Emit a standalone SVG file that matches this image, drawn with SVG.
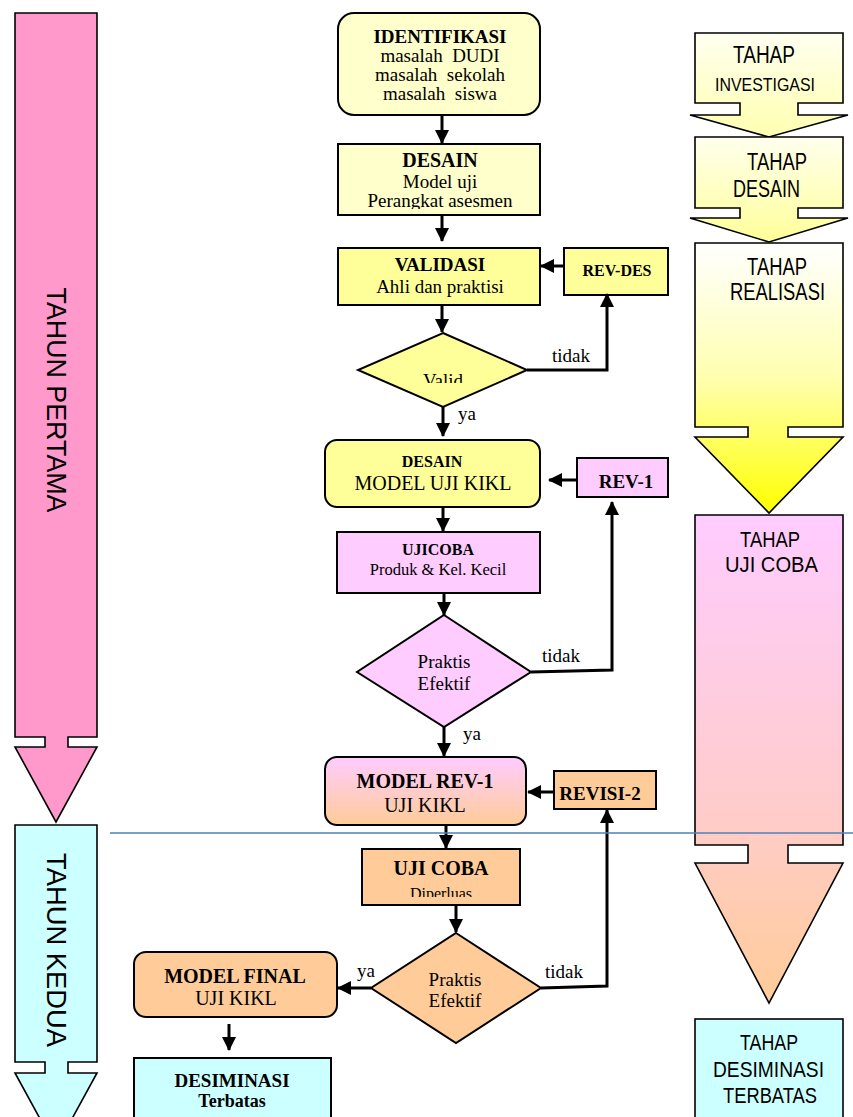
<svg xmlns="http://www.w3.org/2000/svg" width="853" height="1117" viewBox="0 0 853 1117">
<style>
.box{stroke:#000;stroke-width:2}
.big{stroke:#000;stroke-width:1.6}
.serif{font-family:"Liberation Serif","Times New Roman",serif;fill:#000}
.sans{font-family:"Liberation Sans",Arial,sans-serif;fill:#000}
.b{font-weight:bold}
.c{text-anchor:middle}
.con{fill:none;stroke:#000;stroke-width:3}
</style>
<defs>
<marker id="ah" markerUnits="userSpaceOnUse" markerWidth="14" markerHeight="14" refX="13" refY="7" orient="auto">
<path d="M0,0 L14,7 L0,14 Z" fill="#000"/>
</marker>
<linearGradient id="g1" x1="0" y1="0" x2="0" y2="1"><stop offset="0" stop-color="#fffff0"/><stop offset="1" stop-color="#ffffb0"/></linearGradient>
<linearGradient id="g2" x1="0" y1="0" x2="0" y2="1"><stop offset="0" stop-color="#ffffee"/><stop offset="1" stop-color="#ffff99"/></linearGradient>
<linearGradient id="g3" x1="0" y1="0" x2="0" y2="1"><stop offset="0" stop-color="#ffffff"/><stop offset="0.5" stop-color="#ffffb0"/><stop offset="1" stop-color="#ffff00"/></linearGradient>
<linearGradient id="g4" x1="0" y1="0" x2="0" y2="1"><stop offset="0" stop-color="#ffccff"/><stop offset="0.6" stop-color="#ffcccc"/><stop offset="1" stop-color="#ffcc99"/></linearGradient>
<linearGradient id="g5" x1="0" y1="0" x2="0" y2="1"><stop offset="0" stop-color="#ffccff"/><stop offset="1" stop-color="#ffcc99"/></linearGradient>
<clipPath id="clipValid"><rect x="400" y="340" width="90" height="43"/></clipPath>
<clipPath id="clipDip"><rect x="362" y="880" width="158" height="17"/></clipPath>
<clipPath id="clipPer"><rect x="338" y="190" width="202" height="19"/></clipPath>
</defs>

<g id="tahun-pertama">
<path class="big" fill="#ff99cc" d="M15,13 H97 V737 H68 V747 H97 L56,822 L15,747 H45 V737 H15 Z"/>
<text class="sans" font-size="28" text-anchor="middle" textLength="225" lengthAdjust="spacingAndGlyphs" transform="translate(47,400) rotate(90)">TAHUN PERTAMA</text>
</g>
<g id="tahun-kedua">
<path class="big" fill="#ccffff" d="M15,825 H97 V1062 H68 V1073 H97 L56,1148 L15,1073 H45 V1062 H15 Z"/>
<text class="sans" font-size="28" text-anchor="middle" textLength="194" lengthAdjust="spacingAndGlyphs" transform="translate(47,950) rotate(90)">TAHUN KEDUA</text>
</g>

<g id="tahap-investigasi">
<path class="big" fill="url(#g1)" d="M695,33 H843 V103 H798 V115 H848 L769,137 L690,115 H740 V103 H695 Z"/>
<text class="sans" font-size="23" x="733" y="63" textLength="62" lengthAdjust="spacingAndGlyphs">TAHAP</text>
<text class="sans" font-size="19" x="715" y="91" textLength="100" lengthAdjust="spacingAndGlyphs">INVESTIGASI</text>
</g>
<g id="tahap-desain">
<path class="big" fill="url(#g2)" d="M695,137 H843 V208 H798 V218 H848 L769,242 L690,218 H740 V208 H695 Z"/>
<text class="sans" font-size="23" x="747" y="170" textLength="60" lengthAdjust="spacingAndGlyphs">TAHAP</text>
<text class="sans" font-size="23" x="733" y="197" textLength="67" lengthAdjust="spacingAndGlyphs">DESAIN</text>
</g>
<g id="tahap-realisasi">
<path class="big" fill="url(#g3)" d="M695,243 H843 V427 H788 V437 H843 L769,513 L695,437 H748 V427 H695 Z"/>
<text class="sans" font-size="23" x="747" y="275" textLength="60" lengthAdjust="spacingAndGlyphs">TAHAP</text>
<text class="sans" font-size="23" x="730" y="300" textLength="95" lengthAdjust="spacingAndGlyphs">REALISASI</text>
</g>
<g id="tahap-ujicoba">
<path class="big" fill="url(#g4)" d="M695,515 H843 V845 H788 V863 H843 L769,1003 L695,863 H748 V845 H695 Z"/>
<text class="sans" font-size="22" x="740" y="547" textLength="60" lengthAdjust="spacingAndGlyphs">TAHAP</text>
<text class="sans" font-size="22" x="725" y="572" textLength="93" lengthAdjust="spacingAndGlyphs">UJI COBA</text>
</g>
<g id="tahap-desiminasi">
<rect class="big" fill="#ccffff" x="695" y="1019" width="148" height="110"/>
<text class="sans" font-size="22" x="740" y="1050" textLength="58" lengthAdjust="spacingAndGlyphs">TAHAP</text>
<text class="sans" font-size="22" x="713" y="1077" textLength="111" lengthAdjust="spacingAndGlyphs">DESIMINASI</text>
<text class="sans" font-size="22" x="723" y="1103" textLength="94" lengthAdjust="spacingAndGlyphs">TERBATAS</text>
</g>

<g id="identifikasi">
<rect class="box" fill="#ffffcc" x="338" y="13" width="202" height="102" rx="16"/>
<text class="serif b c" font-size="19" x="440" y="43">IDENTIFIKASI</text>
<text class="serif c" font-size="19" x="440" y="62" xml:space="preserve">masalah  DUDI</text>
<text class="serif c" font-size="19" x="440" y="81" xml:space="preserve">masalah  sekolah</text>
<text class="serif c" font-size="19" x="440" y="100" xml:space="preserve">masalah  siswa</text>
</g>
<g id="desain">
<rect class="box" fill="#ffffcc" x="338" y="144" width="202" height="71"/>
<text class="serif b c" font-size="20" x="440" y="167">DESAIN</text>
<text class="serif c" font-size="19" x="440" y="188">Model uji</text>
<text class="serif c" font-size="19" x="440" y="207" clip-path="url(#clipPer)">Perangkat asesmen</text>
</g>
<g id="validasi">
<rect class="box" fill="#ffff99" x="338" y="248" width="202" height="57"/>
<text class="serif b c" font-size="19" x="440" y="271">VALIDASI</text>
<text class="serif c" font-size="19" x="440" y="293">Ahli dan praktisi</text>
</g>
<g id="rev-des">
<rect class="box" fill="#ffff99" x="564" y="248" width="104" height="47"/>
<text class="serif b c" font-size="16" x="617" y="276">REV-DES</text>
</g>
<g id="valid">
<polygon class="box" fill="#ffff99" points="443,333 527,370 443,407 358,370"/>
<text class="serif c" font-size="19" x="443" y="387" clip-path="url(#clipValid)">Valid</text>
</g>
<g id="desain-model">
<rect class="box" fill="#ffff99" x="325" y="440" width="215" height="67" rx="12"/>
<text class="serif b c" font-size="16" x="432" y="467">DESAIN</text>
<text class="serif c" font-size="20" x="433" y="490">MODEL UJI KIKL</text>
</g>
<g id="rev-1">
<rect class="box" fill="#ffccff" x="577" y="458" width="91" height="39"/>
<text class="serif b c" font-size="19" x="626" y="488">REV-1</text>
</g>
<g id="ujicoba">
<rect class="box" fill="#ffccff" x="337" y="532" width="203" height="61"/>
<text class="serif b c" font-size="16" x="438" y="555">UJICOBA</text>
<text class="serif c" font-size="16.5" x="438" y="575">Produk &amp; Kel. Kecil</text>
</g>
<g id="praktis-1">
<polygon class="box" fill="#ffccff" points="444,615 531,672 444,727 357,672"/>
<text class="serif c" font-size="19" x="444" y="668">Praktis</text>
<text class="serif c" font-size="19" x="444" y="690">Efektif</text>
</g>
<g id="model-rev-1">
<rect class="box" fill="url(#g5)" x="325" y="757" width="201" height="68" rx="12"/>
<text class="serif b c" font-size="20" x="425" y="788">MODEL REV-1</text>
<text class="serif c" font-size="20" x="425" y="812">UJI KIKL</text>
</g>
<g id="revisi-2">
<rect class="box" fill="#ffcc99" x="554" y="771" width="102" height="38"/>
<text class="serif b c" font-size="19" x="600" y="800">REVISI-2</text>
</g>
<g id="uji-coba">
<rect class="box" fill="#ffcc99" x="362" y="849" width="158" height="56"/>
<text class="serif b c" font-size="20" x="441" y="875">UJI COBA</text>
<text class="serif c" font-size="16" x="441" y="899" clip-path="url(#clipDip)">Diperluas</text>
</g>
<g id="praktis-2">
<polygon class="box" fill="#ffcc99" points="456,933 541,988 456,1043 371,988"/>
<text class="serif c" font-size="19" x="455" y="986">Praktis</text>
<text class="serif c" font-size="19" x="455" y="1007">Efektif</text>
</g>
<g id="model-final">
<rect class="box" fill="#ffcc99" x="134" y="952" width="203" height="65" rx="12"/>
<text class="serif b c" font-size="20" x="235" y="983">MODEL FINAL</text>
<text class="serif c" font-size="20" x="236" y="1005">UJI KIKL</text>
</g>
<g id="desiminasi">
<rect class="box" fill="#ccffff" x="134" y="1058" width="197" height="70"/>
<text class="serif b c" font-size="19" x="232" y="1087">DESIMINASI</text>
<text class="serif b c" font-size="18" x="232" y="1107">Terbatas</text>
</g>

<g id="connectors">
<path class="con" marker-end="url(#ah)" d="M442,115 V143"/>
<path class="con" marker-end="url(#ah)" d="M442,215 V241"/>
<path class="con" marker-end="url(#ah)" d="M564,266 H541"/>
<path class="con" marker-end="url(#ah)" d="M442,305 V332"/>
<path class="con" marker-end="url(#ah)" d="M527,370 H607 V294"/>
<path class="con" marker-end="url(#ah)" d="M443,407 V436"/>
<path class="con" marker-end="url(#ah)" d="M577,480 H549"/>
<path class="con" marker-end="url(#ah)" d="M443,507 V531"/>
<path class="con" marker-end="url(#ah)" d="M444,593 V615"/>
<path class="con" marker-end="url(#ah)" d="M531,672 L612,670 V502"/>
<path class="con" marker-end="url(#ah)" d="M444,727 V756"/>
<path class="con" marker-end="url(#ah)" d="M554,792 H528"/>
<path class="con" marker-end="url(#ah)" d="M446,825 V848"/>
<path class="con" marker-end="url(#ah)" d="M456,905 V932"/>
<path class="con" marker-end="url(#ah)" d="M541,988 L607,986 V810"/>
<path class="con" marker-end="url(#ah)" d="M371,988 H338"/>
<path class="con" marker-end="url(#ah)" d="M229,1024 V1050"/>
<text class="serif" font-size="19" x="552" y="362">tidak</text>
<text class="serif" font-size="19" x="458" y="420">ya</text>
<text class="serif" font-size="19" x="542" y="662">tidak</text>
<text class="serif" font-size="19" x="463" y="740">ya</text>
<text class="serif" font-size="19" x="545" y="978">tidak</text>
<text class="serif" font-size="19" x="357" y="977">ya</text>
</g>

<line x1="110" y1="833" x2="853" y2="833" stroke="#4f81bd" stroke-width="1.5"/>
</svg>
